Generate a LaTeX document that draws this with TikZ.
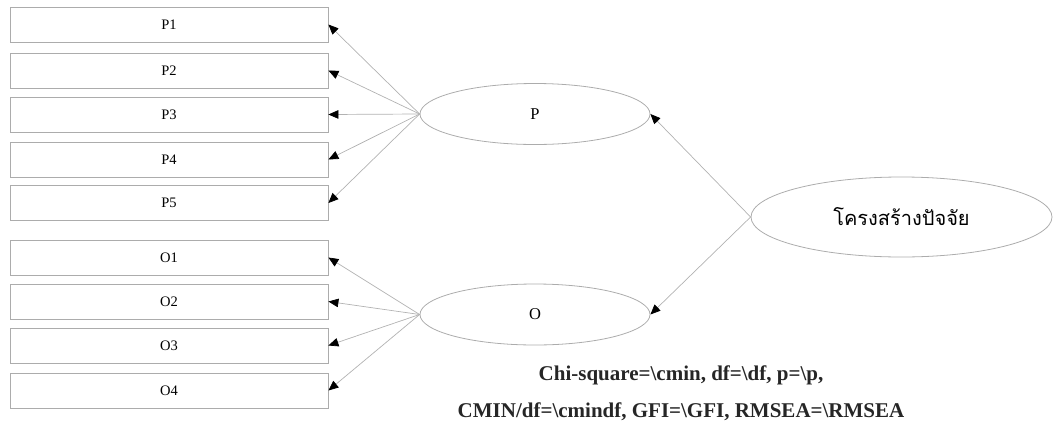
\documentclass[tikz,border=0pt]{standalone}
\usepackage{fontspec}
\setmainfont{Liberation Serif}
\newfontfamily\thaifont[Script=Thai]{Loma}
\usetikzlibrary{shapes.geometric,arrows.meta}

\tikzset{
  itembox/.style={draw=gray!65, line width=0.8pt, rectangle,
    minimum width=318pt, minimum height=35pt, inner sep=0pt,
    font=\fontsize{14.5}{17}\selectfont},
  latent/.style={draw=gray!65, line width=0.8pt, ellipse, inner sep=0pt,
    font=\fontsize{16.5}{19}\selectfont},
  path link/.style={draw=gray!60, line width=0.7pt,
    -{Triangle[length=10pt,width=8.5pt,color=black]}},
  fitline/.style={font=\bfseries\fontsize{21}{24}\selectfont, anchor=base,
    text=black!85, inner sep=0pt}
}

\begin{document}
\begin{tikzpicture}[x=1pt,y=-1pt]
  \useasboundingbox (0,0) rectangle (1057,426);

  % observed indicators
  \node[itembox] (p1) at (169,24.5) {P1};
  \node[itembox] (p2) at (169,70.5) {P2};
  \node[itembox] (p3) at (169,114.5) {P3};
  \node[itembox] (p4) at (169,159.5) {P4};
  \node[itembox] (p5) at (169,203) {P5};
  \node[itembox] (o1) at (169,257.5) {O1};
  \node[itembox] (o2) at (169,301.5) {O2};
  \node[itembox] (o3) at (169,345.5) {O3};
  \node[itembox] (o4) at (169,390.5) {O4};

  % latent factors
  \node[latent, minimum width=230pt, minimum height=61pt] (P) at (535,114) {P};
  \node[latent, minimum width=230pt, minimum height=61pt] (O) at (535,314.5) {O};
  \node[latent, minimum width=301pt, minimum height=80pt,
        font=\thaifont\fontsize{20}{24}\selectfont] (F) at (901.5,217) {โครงสร้างปัจจัย};

  % loadings
  \foreach \i in {p1,p2,p3,p4,p5} \draw[path link] (P.west) -- (\i.east);
  \foreach \i in {o1,o2,o3,o4} \draw[path link] (O.west) -- (\i.east);
  \draw[path link] (F.west) -- (P.east);
  \draw[path link] (F.west) -- (O.east);

  % fit indices
  \node[fitline] (fit1) at (681,380) {Chi-square=\textbackslash cmin, df=\textbackslash df, p=\textbackslash p,};
  \node[fitline] (fit2) at (681,417) {CMIN/df=\textbackslash cmindf, GFI=\textbackslash GFI, RMSEA=\textbackslash RMSEA};
\end{tikzpicture}
\end{document}
